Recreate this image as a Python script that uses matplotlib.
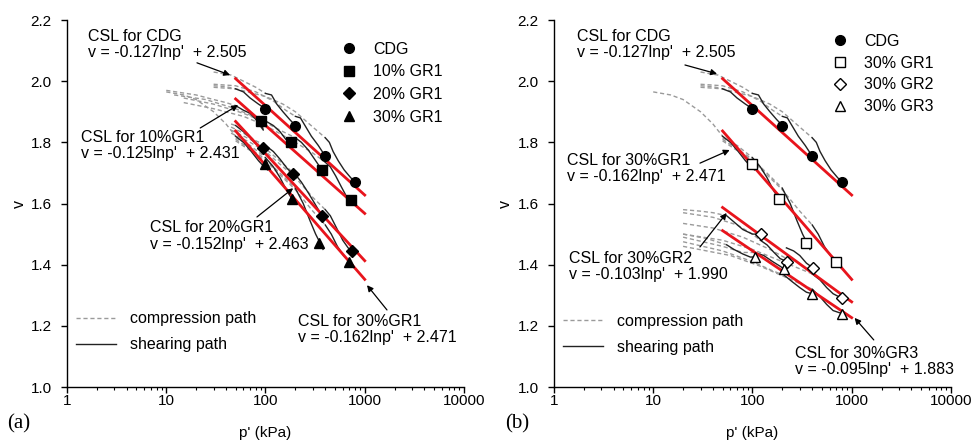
import numpy as np
import matplotlib.pyplot as plt
from matplotlib.ticker import FixedLocator, FuncFormatter, LogLocator, NullFormatter
from matplotlib.lines import Line2D

plt.rcParams['font.family'] = ['Liberation Sans', 'DejaVu Sans']

# critical state lines  v = slope*ln(p') + intercept
csl_p = [50, 1000]
csl_cdg = (-0.127, 2.505)
csl_10gr1 = (-0.125, 2.431)
csl_20gr1 = (-0.152, 2.463)
csl_30gr1 = (-0.162, 2.471)
csl_30gr2 = (-0.103, 1.990)
csl_30gr3 = (-0.095, 1.883)

# critical states reached at the end of shearing (p' in kPa, v)
cdg_p = [100, 200, 400, 800]
cdg_v = [1.91, 1.855, 1.755, 1.67]
gr1_10_p = [90, 180, 370, 720]
gr1_10_v = [1.87, 1.80, 1.71, 1.61]
gr1_20_p = [95, 190, 370, 750]
gr1_20_v = [1.78, 1.695, 1.56, 1.445]
gr1_30_p = [100, 185, 350, 700]
gr1_30_v = [1.73, 1.615, 1.47, 1.41]
gr2_30_p = [122, 222, 405, 800]
gr2_30_v = [1.50, 1.41, 1.39, 1.29]
gr3_30_p = [105, 210, 400, 800]
gr3_30_v = [1.425, 1.385, 1.305, 1.24]

# compression paths (dashed) and shearing paths (solid), one pair per test
cdg_comp = [
    ([30, 40, 50], [1.985, 1.982, 1.975]),
    ([30, 45, 60, 80, 100], [2.03, 2.02, 2.0, 1.98, 1.96]),
    ([30, 50, 80, 120, 160, 200], [1.99, 1.985, 1.965, 1.935, 1.905, 1.885]),
    ([30, 50, 100, 150, 200, 300, 400], [1.98, 1.975, 1.95, 1.925, 1.90, 1.85, 1.815]),
]
cdg_shear = [
    ([50, 60, 70, 85, 100, 105], [1.975, 1.965, 1.945, 1.925, 1.91, 1.905]),
    ([100, 115, 130, 150, 175, 200], [1.96, 1.955, 1.925, 1.90, 1.875, 1.855]),
    ([200, 225, 250, 290, 340, 400], [1.885, 1.88, 1.855, 1.82, 1.79, 1.755]),
    ([400, 440, 480, 540, 620, 720, 800], [1.815, 1.80, 1.77, 1.74, 1.71, 1.685, 1.67]),
]
gr1_10_comp = [
    ([10, 20, 30, 40, 50], [1.97, 1.955, 1.94, 1.93, 1.92]),
    ([12, 25, 50, 75, 100], [1.955, 1.94, 1.91, 1.885, 1.87]),
    ([15, 30, 60, 100, 150, 200], [1.945, 1.925, 1.895, 1.865, 1.835, 1.815]),
    ([15, 30, 60, 100, 200, 300, 400], [1.93, 1.91, 1.885, 1.855, 1.80, 1.765, 1.735]),
]
gr1_10_shear = [
    ([50, 60, 70, 80, 88, 95, 90], [1.92, 1.905, 1.895, 1.875, 1.855, 1.84, 1.87]),
    ([100, 120, 140, 160, 180], [1.87, 1.855, 1.835, 1.81, 1.80]),
    ([200, 230, 270, 320, 370], [1.815, 1.80, 1.775, 1.74, 1.71]),
    ([400, 450, 510, 580, 650, 720], [1.735, 1.72, 1.69, 1.655, 1.625, 1.61]),
]
gr1_20_comp = [
    ([45, 50], [1.86, 1.855]),
    ([45, 60, 80, 100], [1.85, 1.83, 1.805, 1.79]),
    ([45, 70, 100, 150, 200], [1.84, 1.81, 1.78, 1.73, 1.695]),
    ([45, 70, 100, 150, 200, 300, 400], [1.83, 1.80, 1.77, 1.72, 1.685, 1.62, 1.58]),
]
gr1_20_shear = [
    ([50, 60, 70, 80, 95], [1.855, 1.835, 1.815, 1.795, 1.78]),
    ([100, 120, 140, 165, 190], [1.79, 1.77, 1.745, 1.715, 1.695]),
    ([200, 230, 270, 320, 370], [1.695, 1.67, 1.635, 1.595, 1.56]),
    ([400, 450, 520, 600, 680, 750], [1.58, 1.56, 1.52, 1.48, 1.455, 1.445]),
]
gr1_30_comp = [
    ([10, 15, 20, 30, 40, 50], [1.965, 1.955, 1.94, 1.90, 1.86, 1.82]),
    ([50, 70, 100], [1.815, 1.79, 1.75]),
    ([50, 100, 150, 200], [1.81, 1.745, 1.69, 1.65]),
    ([50, 100, 200, 300, 400], [1.805, 1.74, 1.645, 1.575, 1.53]),
]
gr1_30_shear = [
    ([50, 60, 70, 85, 100, 105], [1.82, 1.80, 1.775, 1.74, 1.715, 1.71]),
    ([100, 120, 140, 165, 185, 195], [1.75, 1.72, 1.685, 1.64, 1.615, 1.60]),
    ([200, 240, 280, 320, 350, 380], [1.65, 1.60, 1.545, 1.50, 1.475, 1.45]),
    ([400, 460, 530, 610, 700], [1.53, 1.50, 1.46, 1.43, 1.41]),
]
gr2_30_comp = [
    ([20, 30, 40, 55], [1.58, 1.575, 1.57, 1.56]),
    ([20, 40, 70, 100, 120], [1.57, 1.555, 1.53, 1.50, 1.48]),
    ([20, 40, 80, 150, 220], [1.535, 1.52, 1.49, 1.45, 1.42]),
    ([20, 50, 100, 200, 400], [1.50, 1.48, 1.45, 1.41, 1.37]),
]
gr2_30_shear = [
    ([55, 65, 80, 100, 122], [1.56, 1.54, 1.515, 1.50, 1.50]),
    ([120, 140, 165, 190, 222], [1.48, 1.465, 1.44, 1.42, 1.41]),
    ([220, 260, 300, 350, 405], [1.455, 1.445, 1.43, 1.405, 1.39]),
    ([400, 480, 560, 650, 800], [1.37, 1.35, 1.325, 1.305, 1.29]),
]
gr3_30_comp = [
    ([20, 35, 55], [1.50, 1.485, 1.465]),
    ([20, 50, 80, 105], [1.49, 1.46, 1.44, 1.44]),
    ([20, 50, 100, 160, 210], [1.475, 1.445, 1.41, 1.38, 1.365]),
    ([20, 60, 120, 250, 400], [1.46, 1.43, 1.395, 1.35, 1.32]),
]
gr3_30_shear = [
    ([55, 65, 80, 95, 105], [1.465, 1.45, 1.435, 1.425, 1.425]),
    ([105, 130, 160, 190, 210], [1.44, 1.43, 1.41, 1.395, 1.385]),
    ([210, 250, 300, 350, 400], [1.365, 1.345, 1.325, 1.31, 1.305]),
    ([400, 480, 560, 650, 800], [1.32, 1.295, 1.27, 1.25, 1.24]),
]


def draw_paths(ax, comp, shear):
    for p, v in comp:
        ax.plot(p, v, color='#9a9a9a', lw=1.0, ls=(0, (3, 2)), zorder=2)
    for p, v in shear:
        ax.plot(p, v, color='#222222', lw=1.0, zorder=3)


def draw_csl(ax, coef):
    p = np.array(csl_p, dtype=float)
    ax.plot(p, coef[0] * np.log(p) + coef[1], color='#e8141c', lw=2.0, zorder=4)


def label_csl(ax, txt, xy_text, tail, head):
    ax.text(xy_text[0], xy_text[1], txt, fontsize=11.5, va='top', ha='left',
            linespacing=1.1, zorder=6)
    ax.annotate('', xy=head, xytext=tail,
                arrowprops=dict(arrowstyle='-|>', color='black', lw=0.9,
                                mutation_scale=9, shrinkA=0, shrinkB=0), zorder=6)


def path_legend(ax, y0):
    ax.legend([Line2D([], [], color='#9a9a9a', lw=1.0, ls=(0, (3, 2))),
               Line2D([], [], color='#222222', lw=1.0)],
              ['compression path', 'shearing path'], loc='lower left',
              bbox_to_anchor=(-0.013, y0), frameon=False, fontsize=11.5,
              handlelength=2.5, handletextpad=0.85, labelspacing=0.7)


def style_axes(ax):
    ax.set_xscale('log')
    ax.set_xlim(1, 10000)
    ax.set_ylim(1.0, 2.2)
    ax.xaxis.set_major_locator(FixedLocator([1, 10, 100, 1000, 10000]))
    ax.xaxis.set_major_formatter(FuncFormatter(lambda x, pos: '%d' % x))
    ax.xaxis.set_minor_locator(LogLocator(base=10, subs=np.arange(2, 10)))
    ax.xaxis.set_minor_formatter(NullFormatter())
    ax.set_yticks(np.arange(1.0, 2.21, 0.2))
    ax.yaxis.set_major_formatter(FuncFormatter(lambda y, pos: '%.1f' % y))
    for s in ['top', 'right']:
        ax.spines[s].set_visible(False)
    for s in ['left', 'bottom']:
        ax.spines[s].set_linewidth(1.0)
    ax.tick_params(which='major', direction='out', length=4, width=1, labelsize=11)
    ax.tick_params(which='minor', direction='out', length=2.5, width=0.8)
    ax.tick_params(axis='x', which='major', pad=1)
    ax.tick_params(axis='y', which='major', pad=7)
    ax.set_xlabel("p' (kPa)", fontsize=11, labelpad=13)
    ax.set_ylabel('v', fontsize=11.5, labelpad=3)


fig = plt.figure(figsize=(9.77, 4.45), dpi=100)
ax1 = fig.add_axes([0.0686, 0.1303, 0.4063, 0.8247])
ax2 = fig.add_axes([0.567, 0.1303, 0.4063, 0.8247])

# ---- (a) CDG with increasing GR1 content ----
for comp, shear in [(cdg_comp, cdg_shear), (gr1_10_comp, gr1_10_shear),
                    (gr1_20_comp, gr1_20_shear), (gr1_30_comp, gr1_30_shear)]:
    draw_paths(ax1, comp, shear)
for coef in [csl_cdg, csl_10gr1, csl_20gr1, csl_30gr1]:
    draw_csl(ax1, coef)
mk = dict(color='black', ls='none', zorder=5)
h1 = ax1.plot(cdg_p, cdg_v, marker='o', ms=7, **mk)[0]
h2 = ax1.plot(gr1_10_p, gr1_10_v, marker='s', ms=7, **mk)[0]
h3 = ax1.plot(gr1_20_p, gr1_20_v, marker='D', ms=6, **mk)[0]
h4 = ax1.plot(gr1_30_p, gr1_30_v, marker='^', ms=7, **mk)[0]
leg = ax1.legend([h1, h2, h3, h4], ['CDG', '10% GR1', '20% GR1', '30% GR1'],
                 loc='upper left', bbox_to_anchor=(0.655, 0.98), frameon=False,
                 fontsize=11.5, handlelength=1.0, handletextpad=1.0, labelspacing=0.48)
ax1.add_artist(leg)
path_legend(ax1, 0.055)

label_csl(ax1, "CSL for CDG\nv = -0.127lnp'  + 2.505", (1.63, 2.17), (20.4, 2.06), (44, 2.02))
label_csl(ax1, "CSL for 10%GR1\nv = -0.125lnp'  + 2.431", (1.38, 1.84), (22, 1.847), (53, 1.922))
label_csl(ax1, "CSL for 20%GR1\nv = -0.152lnp'  + 2.463", (6.86, 1.545), (82, 1.556), (190, 1.65))
label_csl(ax1, "CSL for 30%GR1\nv = -0.162lnp'  + 2.471", (212, 1.24), (1675, 1.252), (1054, 1.333))
style_axes(ax1)

# ---- (b) CDG with 30% of three gravel types ----
for comp, shear in [(cdg_comp, cdg_shear), (gr1_30_comp, gr1_30_shear),
                    (gr2_30_comp, gr2_30_shear), (gr3_30_comp, gr3_30_shear)]:
    draw_paths(ax2, comp, shear)
for coef in [csl_cdg, csl_30gr1, csl_30gr2, csl_30gr3]:
    draw_csl(ax2, coef)
op = dict(color='black', mfc='white', mew=1.0, ls='none', zorder=5)
g1 = ax2.plot(cdg_p, cdg_v, marker='o', ms=7, **mk)[0]
g2 = ax2.plot(gr1_30_p, gr1_30_v, marker='s', ms=7, **op)[0]
g3 = ax2.plot(gr2_30_p, gr2_30_v, marker='D', ms=6, **op)[0]
g4 = ax2.plot(gr3_30_p, gr3_30_v, marker='^', ms=7, **op)[0]
leg = ax2.legend([g1, g2, g3, g4], ['CDG', '30% GR1', '30% GR2', '30% GR3'],
                 loc='upper left', bbox_to_anchor=(0.665, 1.002), frameon=False,
                 fontsize=11.5, handlelength=1.0, handletextpad=1.0, labelspacing=0.43)
ax2.add_artist(leg)
path_legend(ax2, 0.048)

label_csl(ax2, "CSL for CDG\nv = -0.127lnp'  + 2.505", (1.71, 2.17), (20.9, 2.053), (44, 2.024))
label_csl(ax2, "CSL for 30%GR1\nv = -0.162lnp'  + 2.471", (1.35, 1.765), (29.6, 1.732), (59, 1.775))
label_csl(ax2, "CSL for 30%GR2\nv = -0.103lnp'  + 1.990", (1.42, 1.445), (29.6, 1.458), (55, 1.569))
label_csl(ax2, "CSL for 30%GR3\nv = -0.095lnp'  + 1.883", (268, 1.135), (1670, 1.154), (1070, 1.226))
style_axes(ax2)

fig.text(0.007, 0.038, '(a)', fontsize=15, family=['Liberation Serif', 'DejaVu Serif'])
fig.text(0.517, 0.038, '(b)', fontsize=15, family=['Liberation Serif', 'DejaVu Serif'])

fig.savefig('out.png', dpi=100)
